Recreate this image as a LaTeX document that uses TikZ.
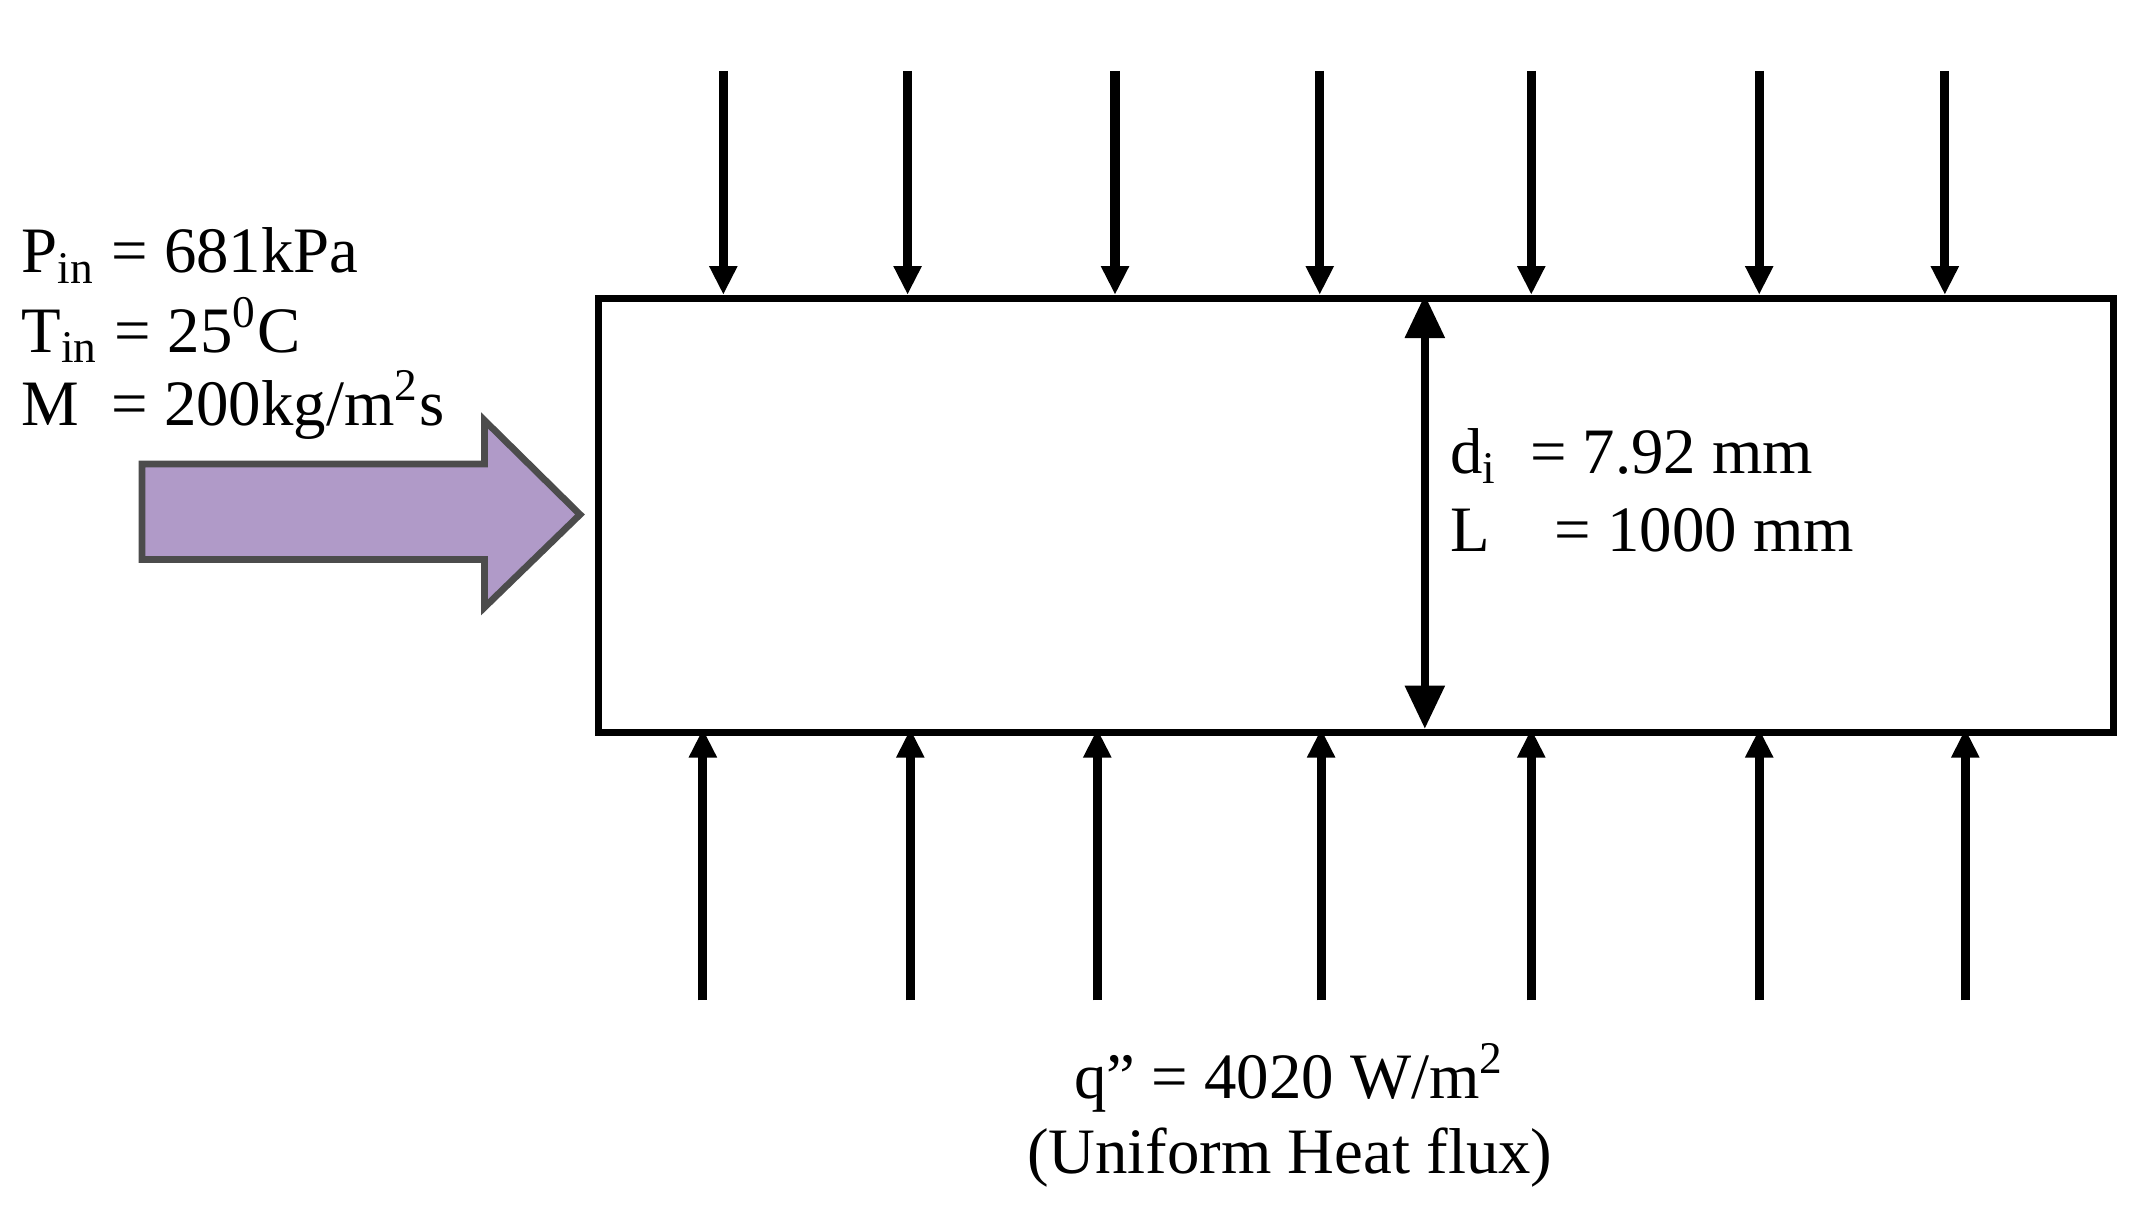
\documentclass[tikz,border=0pt]{standalone}
\usepackage{fontspec}
\setmainfont{Liberation Serif}
\usetikzlibrary{arrows.meta}
\begin{document}
\begin{tikzpicture}[x=0.01cm,y=-0.01cm,
  flux/.style={line width=1.9pt,-{Triangle[length=6pt,width=5.5pt]}},
  lbl/.style={font=\fontsize{13.5}{16}\selectfont,inner sep=0pt,anchor=base west}]
\useasboundingbox (0,0) rectangle (1568,887);
\node[draw,line width=1.4pt,minimum width=1110*0.01cm,minimum height=318*0.01cm,inner sep=0pt,anchor=north west] (tube) at (436,216) {};
\foreach \x [count=\i] in {530,665,817,967,1122,1289,1425}{
  \coordinate (ts\i) at (\x,52);
  \coordinate (te\i) at (\x,216);
  \draw[flux] (ts\i) -- (te\i);}
\foreach \x [count=\i] in {515,667,804,968,1122,1289,1440}{
  \coordinate (bs\i) at (\x,733);
  \coordinate (be\i) at (\x,534);
  \draw[flux] (bs\i) -- (be\i);}
\coordinate (dtop) at (1044,216);
\coordinate (dbot) at (1044,534);
\draw[line width=1.6pt,{Triangle[length=9pt,width=8pt]}-{Triangle[length=9pt,width=8pt]}] (dtop) -- (dbot);
\fill[draw=black!70,line width=1.4pt,fill={rgb,255:red,176;green,154;blue,200}]
  (104,340) -- (355,340) -- (355,308) -- (425,377) -- (355,445) -- (355,410) -- (104,410) -- cycle;
\node[lbl] (p) at (15,200) {P\textsubscript{in} = 681kPa};
\node[lbl] (t) at (15,258) {T\textsubscript{in} = 25\textsuperscript{0}C};
\node[lbl] (m) at (15,312) {M\enspace = 200kg/m\textsuperscript{2}s};
\node[lbl] (d) at (1062,347) {d\textsubscript{i}\enspace = 7.92 mm};
\node[lbl] (l) at (1062,404) {L\quad = 1000 mm};
\node[font=\fontsize{13.5}{16}\selectfont,inner sep=0pt,anchor=base] (q) at (945,805) {q'' = 4020 W/m\textsuperscript{2}};
\node[font=\fontsize{13.5}{16}\selectfont,inner sep=0pt,anchor=base] (u) at (945,860) {(Uniform Heat flux)};
\end{tikzpicture}
\end{document}
